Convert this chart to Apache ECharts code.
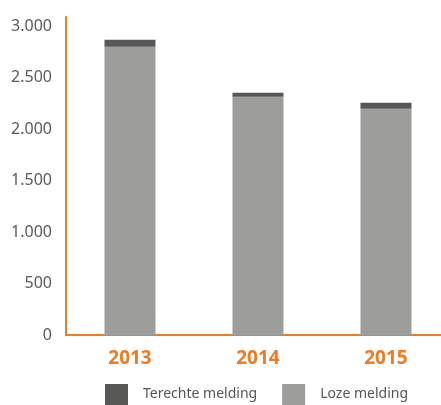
<!DOCTYPE html>
<html><head><meta charset="utf-8">
<script src="https://cdn.jsdelivr.net/npm/echarts@6/dist/echarts.min.js"></script>
<style>html,body{margin:0;padding:0;background:#fff}#c{width:441px;height:405px}</style>
</head><body><div id="c"></div>
<script>
const categories = ['2013', '2014', '2015'];
const lozeMelding = [2797, 2313, 2197];
const terechteMelding = [68, 39, 58];
const yTicks = [0, 500, 1000, 1500, 2000, 2500, 3000];

const orange = '#ef7b22';
const idx = categories.map((c, i) => i);
const chart = echarts.init(document.getElementById('c'));
chart.setOption({
  animation: false,
  grid: { left: 66, top: 17, right: 0, height: 318, containLabel: false },
  legend: {
    left: 105, top: 384, itemWidth: 23, itemHeight: 21, itemGap: 25, padding: 0,
    icon: 'rect',
    textStyle: { fontFamily: 'Noto Sans', fontSize: 14, color: '#555', padding: [0, 0, 0, 10] },
    data: ['Terechte melding', 'Loze melding']
  },
  xAxis: {
    type: 'value', min: -0.5, max: 2.43,
    axisLine: { show: true, onZero: false, lineStyle: { color: orange, width: 2 } },
    axisTick: { show: false },
    splitLine: { show: false },
    axisLabel: {
      customValues: idx,
      color: orange, fontWeight: 'bold', fontSize: 19, fontFamily: 'Noto Sans', margin: 14,
      formatter: v => categories[Math.round(v)] || ''
    }
  },
  yAxis: {
    type: 'value', min: 0, max: 3087, interval: 500,
    axisLine: { show: true, onZero: false, lineStyle: { color: orange, width: 2 } },
    axisTick: { show: false },
    splitLine: { show: false },
    axisLabel: {
      color: '#5a5a5a', fontSize: 16, fontFamily: 'Noto Sans', margin: 14,
      formatter: v => yTicks.includes(v) ? v.toLocaleString('de-DE') : ''
    }
  },
  series: [
    { name: 'Loze melding', type: 'bar', stack: 't', encode: { x: 1, y: 0 },
      data: idx.map(i => [lozeMelding[i], i]), barWidth: 51, itemStyle: { color: '#9d9d9c' } },
    { name: 'Terechte melding', type: 'bar', stack: 't', encode: { x: 1, y: 0 },
      data: idx.map(i => [terechteMelding[i], i]), barWidth: 51, itemStyle: { color: '#575756' } }
  ]
});
</script></body></html>
